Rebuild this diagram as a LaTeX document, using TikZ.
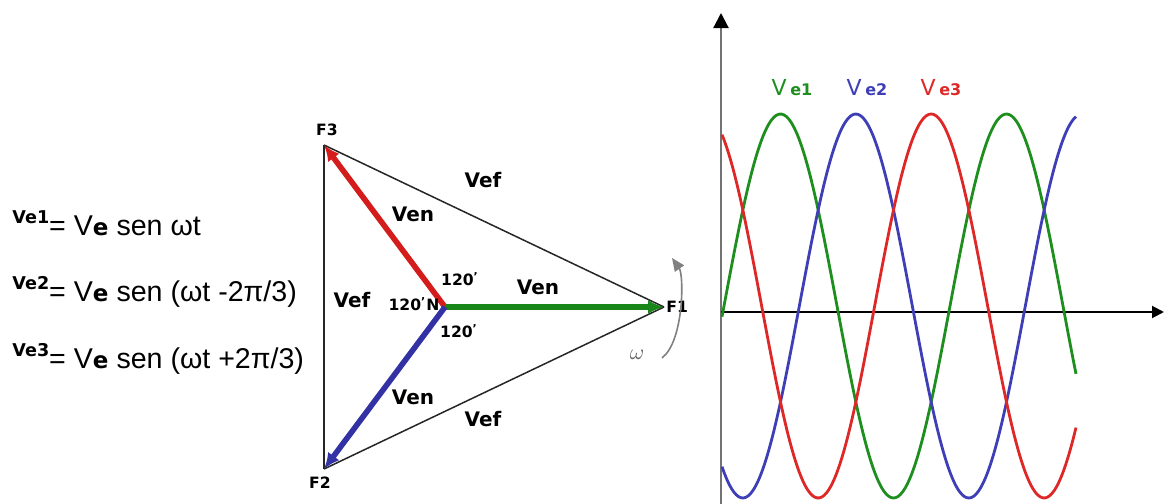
\documentclass[tikz,border=0pt]{standalone}
\usepackage{fontspec}
\setmainfont{DejaVu Sans}
\newfontfamily\arialfont{Liberation Sans}
\usetikzlibrary{arrows.meta}

\definecolor{phred}{RGB}{212,28,28}
\definecolor{phgreen}{RGB}{24,134,24}
\definecolor{phblue}{RGB}{50,50,165}
\definecolor{wred}{RGB}{222,40,40}
\definecolor{wgreen}{RGB}{30,142,30}
\definecolor{wblue}{RGB}{62,62,182}
\definecolor{arcgray}{RGB}{128,128,128}

% small bold tag in front of each equation
\newcommand{\eqtag}[1]{\raisebox{6pt}{\normalfont\bfseries\fontsize{8.8}{10}\selectfont #1}}
\newcommand{\eb}{{\normalfont\bfseries\fontsize{11.5}{13}\selectfont e}}

\begin{document}
\begin{tikzpicture}[x=0.5pt,y=-0.5pt,
  phasor/.style={line width=2.8pt,-{Latex[length=8pt,width=7pt]}},
  side/.style={line width=0.75pt,black!85},
  lbl/.style={font=\bfseries\fontsize{10}{12}\selectfont,inner sep=0pt},
  vlbl/.style={font=\bfseries\fontsize{7.8}{9}\selectfont,inner sep=0pt},
  eqn/.style={anchor=base west,inner sep=0pt,font=\arialfont\fontsize{14.3}{17}\selectfont},
  wave/.style={line width=1.4pt,smooth,samples=150,domain=0:354},
  wlbl/.style={font=\fontsize{11}{12}\selectfont,inner sep=0pt}]
\useasboundingbox (0,0) rectangle (1164,504);

   %EQUATIONS
   \node[eqn] (eq1) at (12,235) {\eqtag{Ve1}= V\eb\ sen ωt};
   \node[eqn] (eq2) at (12,301) {\eqtag{Ve2}= V\eb\ sen (ωt -2π/3)};
   \node[eqn] (eq3) at (12,368) {\eqtag{Ve3}= V\eb\ sen (ωt +2π/3)};

   %TRIANGLE
   \coordinate (N) at (445,307);
   \coordinate (F1) at (664,307);
   \coordinate (F2) at (324,469);
   \coordinate (F3) at (324,145);
   \draw [side] (F3) -- (F2);
   \draw [side] (F3) -- (F1);
   \draw [side] (F2) -- (F1);

   %PHASORS
   \draw [phasor,phred] (N) -- (F3);
   \draw [phasor,phgreen] (N) -- (F1);
   \draw [phasor,phblue] (N) -- (F2);

   \node[vlbl] (f3) at (327,130) {F3};
   \node[vlbl] (f2) at (320,483) {F2};
   \node[vlbl,anchor=west] (f1) at (666,307) {F1};

   \node[lbl] (vef1) at (483,180) {Vef};
   \node[lbl] (vef2) at (352,300) {Vef};
   \node[lbl] (vef3) at (483,419) {Vef};
   \node[lbl] (ven1) at (413,214) {Ven};
   \node[lbl] (ven2) at (538,287) {Ven};
   \node[lbl] (ven3) at (413,397) {Ven};

   \node[vlbl] (a1) at (460,279) {120\textsuperscript{'}};
   \node[vlbl] (a2) at (414,304) {120\textsuperscript{'}N};
   \node[vlbl] (a3) at (459,331) {120\textsuperscript{'}};

   %ROTATION
   \coordinate (r0) at (662,358);
   \coordinate (r1) at (672,258);
   \draw [arcgray,line width=0.8pt,-{Triangle[length=6.5pt,width=5.5pt]}] (r0) .. controls (684,341) and (684,275) .. (r1);
   \node[font=\fontsize{11}{12}\selectfont,text=black!60,inner sep=0pt] (om) at (637,355) {$\omega$};

   %GRAPH
   \coordinate (O) at (721,312);
   \coordinate (ybot) at (721,504);
   \coordinate (ytop) at (721,13);
   \coordinate (xend) at (1164,312);
   \draw [black!55,line width=1.1pt,-{Triangle[length=7.5pt,width=7.5pt,black]}] (ybot) -- (ytop);
   \draw [black,line width=1pt,-{Triangle[length=6pt,width=6pt]}] (O) -- (xend);

   \draw [wave,wgreen] plot ({722+\x},{306-192*sin(1.59292*(\x-2))});
   \draw [wave,wblue] plot ({722+\x},{306-192*sin(1.59292*(\x-2)-120)});
   \draw [wave,wred] plot ({722+\x},{306-192*sin(1.59292*(\x-2)-240)});

   \node[wlbl,text=wgreen] (l1) at (792,88) {V\,{\bfseries\fontsize{8}{9}\selectfont e1}};
   \node[wlbl,text=wblue] (l2) at (867,88) {V\,{\bfseries\fontsize{8}{9}\selectfont e2}};
   \node[wlbl,text=wred] (l3) at (941,88) {V\,{\bfseries\fontsize{8}{9}\selectfont e3}};

\end{tikzpicture}
\end{document}
